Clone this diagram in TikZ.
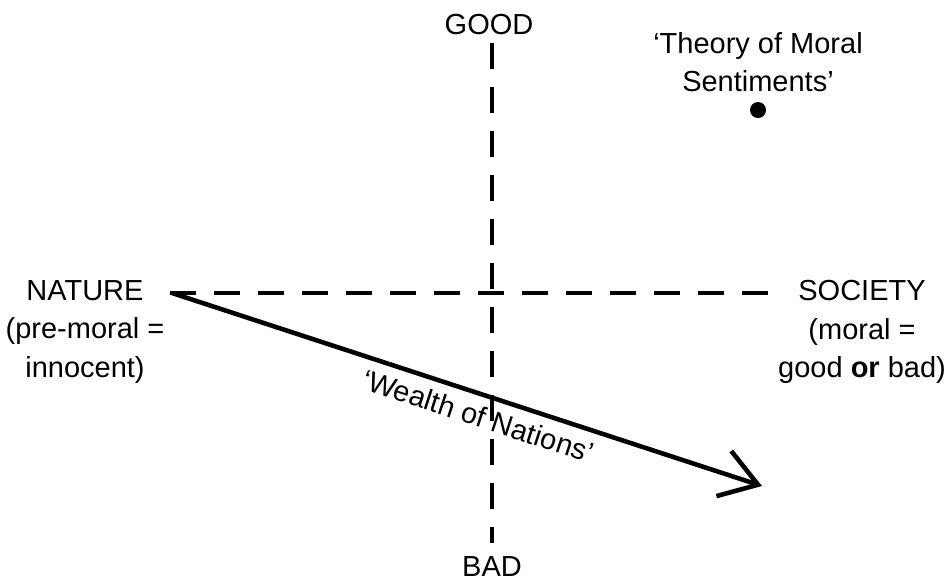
\documentclass[tikz,border=0pt]{standalone}
\usepackage{fontspec}
\setmainfont{Liberation Sans}
\usetikzlibrary{arrows.meta}
\tikzset{
  axisline/.style={line width=2.2pt, dash pattern=on 0.52cm off 0.36cm},
  pathline/.style={line width=2.6pt, -{Straight Barb[length=0.72cm, width=0.95cm]}},
  pole/.style={font=\fontsize{16.5}{21.8}\selectfont, align=center, inner sep=0pt},
  bookdot/.style={fill=black, circle, inner sep=0pt, minimum size=0.32cm}
}

\begin{document}
\begin{tikzpicture}[x=0.02cm, y=-0.02cm]
  \useasboundingbox (0,0) rectangle (949,583);

  % axes
  \coordinate (top) at (492,43);
  \coordinate (bottom) at (492,543);
  \coordinate (left) at (170,293);
  \coordinate (right) at (776,293);
  \draw[axisline] (top) -- (bottom);
  \draw[axisline] (left) -- (right);

  % poles
  \node[pole] (good) at (489,25) {GOOD};
  \node[pole] (bad) at (492,567) {BAD};
  \node[pole] (nature) at (85,332) {NATURE\\(pre-moral =\\innocent)};
  \node[pole] (society) at (862,332) {SOCIETY\\(moral =\\good \textbf{or} bad)};

  % the two books
  \node[pole] (tms) at (758,62) {`Theory of Moral\\Sentiments'};
  \node[bookdot] (tmsdot) at (758,110) {};
  \coordinate (wnstart) at (172,293);
  \coordinate (wnend) at (762,486);
  \draw[pathline] (wnstart) -- node[pos=0.53, sloped, below, pole, inner sep=5pt] (wn) {`Wealth of Nations'} (wnend);
\end{tikzpicture}
\end{document}
